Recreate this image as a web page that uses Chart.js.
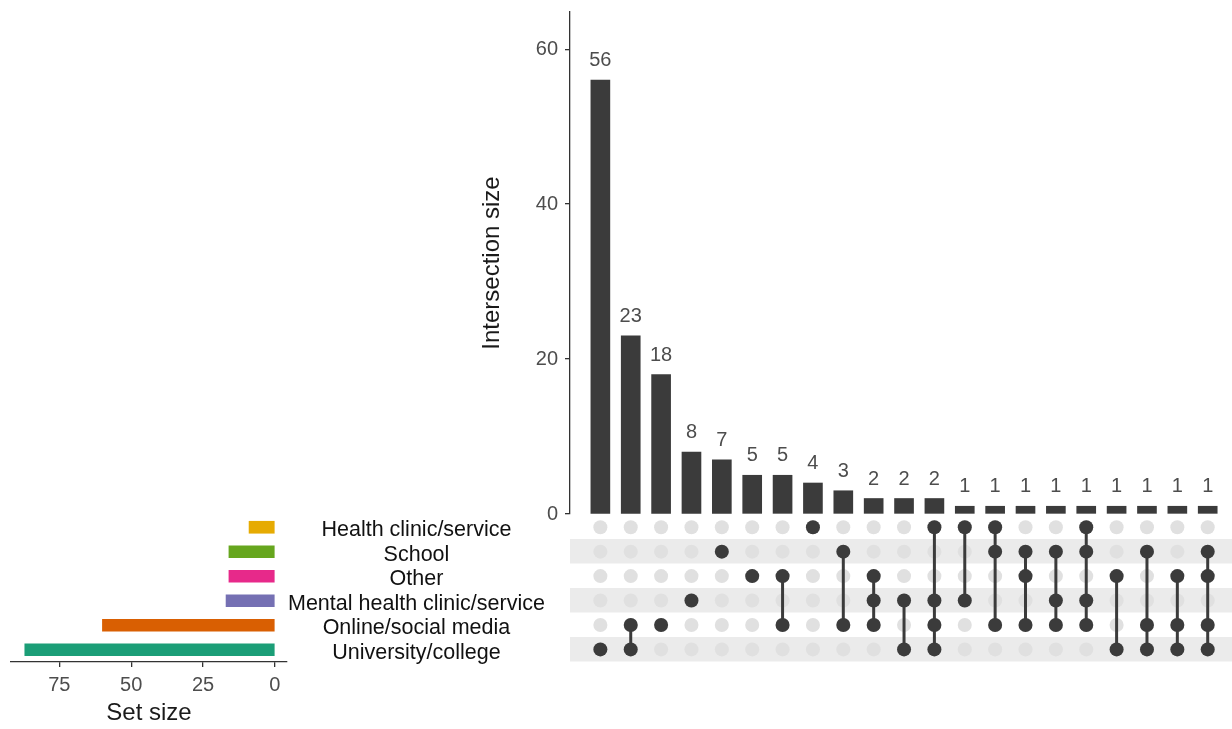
<!DOCTYPE html>
<html>
<head>
<meta charset="utf-8">
<script src="https://cdn.jsdelivr.net/npm/chart.js@4.4.1/dist/chart.umd.min.js"></script>
<style>
  html, body { margin: 0; padding: 0; background: #fff; }
  #wrap { position: relative; width: 1232px; height: 729px; overflow: hidden; background: #fff; }
  canvas { position: absolute; }
</style>
</head>
<body>
<div id="wrap">
  <canvas id="sizes" width="762" height="520" style="left:470px;top:0px"></canvas>
  <canvas id="matrix" width="672" height="170" style="left:560px;top:505px"></canvas>
  <canvas id="sets" width="570" height="224" style="left:0px;top:505px"></canvas>
</div>
<script>
// Sets, top row first
const setNames = [
  'Health clinic/service',
  'School',
  'Other',
  'Mental health clinic/service',
  'Online/social media',
  'University/college'
];
const setSizes = [9, 16, 16, 17, 60, 87];
const setSizeTicks = [0, 25, 50, 75];

// Intersections, largest first
const intersectionSizes = [56, 23, 18, 8, 7, 5, 5, 4, 3, 2, 2, 2, 1, 1, 1, 1, 1, 1, 1, 1, 1];
const intersectionTicks = [0, 20, 40, 60];
const intersectionSets = [
  ['University/college'],
  ['Online/social media', 'University/college'],
  ['Online/social media'],
  ['Mental health clinic/service'],
  ['School'],
  ['Other'],
  ['Other', 'Online/social media'],
  ['Health clinic/service'],
  ['School', 'Online/social media'],
  ['Other', 'Mental health clinic/service', 'Online/social media'],
  ['Mental health clinic/service', 'University/college'],
  ['Health clinic/service', 'Mental health clinic/service', 'Online/social media', 'University/college'],
  ['Health clinic/service', 'Mental health clinic/service'],
  ['Health clinic/service', 'School', 'Online/social media'],
  ['School', 'Other', 'Online/social media'],
  ['School', 'Mental health clinic/service', 'Online/social media'],
  ['Health clinic/service', 'School', 'Mental health clinic/service', 'Online/social media'],
  ['Other', 'University/college'],
  ['School', 'Online/social media', 'University/college'],
  ['Other', 'Online/social media', 'University/college'],
  ['School', 'Other', 'Online/social media', 'University/college']
];

// Styling
const setColors = ['#E6AB02', '#66A61E', '#E7298A', '#7570B3', '#D95F02', '#1B9E77'];
const DARK = '#3B3B3B';
const EMPTY_DOT = '#E0E0E0';
const STRIPE = '#EBEBEB';
const AXIS = '#333333';
const TICK_TEXT = '#4D4D4D';
const FONT = '"Liberation Sans", Arial, Helvetica, sans-serif';

Chart.defaults.font.family = FONT;
Chart.defaults.animation = false;
Chart.defaults.plugins.legend.display = false;
Chart.defaults.plugins.tooltip.enabled = false;

// Shared column axis for the bars and the dot matrix (fresh object per chart)
const columnAxis = () => ({ type: 'linear', min: 0, max: 21.8, offset: false, display: false });

// Keep axis label overhang from shrinking the plotting area
const noLabelOverhang = s => { s.paddingTop = 0; s.paddingBottom = 0; s.paddingLeft = 0; s.paddingRight = 0; };

// Value labels above the intersection bars
const barValueLabels = {
  id: 'barValueLabels',
  afterDatasetsDraw(chart) {
    const ctx = chart.ctx;
    const meta = chart.getDatasetMeta(0);
    ctx.save();
    ctx.font = '20px ' + FONT;
    ctx.fillStyle = TICK_TEXT;
    ctx.textAlign = 'center';
    ctx.textBaseline = 'alphabetic';
    meta.data.forEach((bar, i) => {
      ctx.fillText(String(intersectionSizes[i]), bar.x, bar.y - 14);
    });
    ctx.restore();
  }
};

// Intersection size bars
new Chart(document.getElementById('sizes'), {
  type: 'bar',
  data: {
    datasets: [{
      data: intersectionSizes.map((v, i) => ({ x: i + 1, y: v })),
      backgroundColor: DARK,
      borderWidth: 0,
      barThickness: 19
    }]
  },
  options: {
    responsive: false,
    layout: { autoPadding: false, padding: { left: 0, right: 0, top: 12, bottom: 6 } },
    scales: {
      x: columnAxis(),
      y: {
        type: 'linear',
        min: 0,
        max: 64.8,
        afterBuildTicks: s => { s.ticks = intersectionTicks.map(v => ({ value: v })); },
        afterFit: s => { s.width = 100; noLabelOverhang(s); },
        ticks: { font: { size: 20 }, color: TICK_TEXT, padding: 7 },
        grid: { drawOnChartArea: false, drawTicks: true, tickLength: 5, color: AXIS, lineWidth: 1.3 },
        border: { display: true, color: AXIS, width: 1.3 },
        title: {
          display: true,
          text: 'Intersection size',
          font: { size: 24 },
          color: '#1A1A1A',
          padding: { top: 8, bottom: 0 }
        }
      }
    }
  },
  plugins: [barValueLabels]
});

// Dot matrix: empty dots, connecting lines, member dots
const rowOf = name => setNames.indexOf(name) + 1;
const emptyDots = [];
intersectionSizes.forEach((_, c) => {
  setNames.forEach((_, r) => emptyDots.push({ x: c + 1, y: r + 1 }));
});
const memberDots = [];
const linkDatasets = [];
intersectionSets.forEach((members, c) => {
  const rows = members.map(rowOf);
  rows.forEach(r => memberDots.push({ x: c + 1, y: r }));
  if (rows.length > 1) {
    linkDatasets.push({
      type: 'line',
      data: [{ x: c + 1, y: Math.min(...rows) }, { x: c + 1, y: Math.max(...rows) }],
      borderColor: DARK,
      borderWidth: 3,
      pointRadius: 0,
      showLine: true,
      order: 1
    });
  }
});

new Chart(document.getElementById('matrix'), {
  type: 'scatter',
  data: {
    datasets: [
      {
        data: memberDots,
        pointRadius: 7,
        pointBackgroundColor: DARK,
        pointBorderWidth: 0,
        order: 0
      },
      ...linkDatasets,
      {
        data: emptyDots,
        pointRadius: 7,
        pointBackgroundColor: EMPTY_DOT,
        pointBorderWidth: 0,
        order: 2
      }
    ]
  },
  options: {
    responsive: false,
    layout: { autoPadding: false, padding: { left: 10, right: 0, top: 10, bottom: 13.4 } },
    scales: {
      x: columnAxis(),
      y: {
        type: 'linear',
        min: 0.5,
        max: 6.5,
        reverse: true,
        afterBuildTicks: s => { s.ticks = setNames.map((_, i) => ({ value: i + 1 })); },
        afterFit: s => { s.width = 0; noLabelOverhang(s); },
        ticks: { display: false },
        border: { display: false },
        grid: {
          drawTicks: false,
          color: ctx => (ctx.index % 2 === 1 ? STRIPE : 'rgba(0,0,0,0)'),
          lineWidth: ctx => Math.abs(ctx.scale.getPixelForValue(1) - ctx.scale.getPixelForValue(2))
        }
      }
    }
  }
});

// Set size bars with set names
new Chart(document.getElementById('sets'), {
  type: 'bar',
  data: {
    labels: setNames,
    datasets: [{
      data: setSizes,
      backgroundColor: setColors,
      borderWidth: 0,
      barThickness: 12
    }]
  },
  options: {
    responsive: false,
    indexAxis: 'y',
    layout: { autoPadding: false, padding: { left: 11, right: 0, top: 10, bottom: 0 } },
    scales: {
      x: {
        type: 'linear',
        reverse: true,
        min: -4.2,
        max: 91.8,
        position: 'bottom',
        afterBuildTicks: s => { s.ticks = setSizeTicks.map(v => ({ value: v })); },
        afterFit: s => { s.height = 67; noLabelOverhang(s); },
        ticks: { font: { size: 20 }, color: TICK_TEXT, padding: 6, maxRotation: 0 },
        grid: { drawOnChartArea: false, drawTicks: true, tickLength: 5, color: AXIS, lineWidth: 1.3 },
        border: { display: true, color: AXIS, width: 1.3 },
        title: {
          display: true,
          text: 'Set size',
          font: { size: 24 },
          color: '#1A1A1A',
          padding: { top: 0, bottom: 1 }
        }
      },
      y: {
        type: 'category',
        position: 'right',
        afterFit: s => { s.width = 283; noLabelOverhang(s); },
        grid: { display: false, drawTicks: false },
        border: { display: false },
        ticks: { font: { size: 21.5 }, color: '#111111', crossAlign: 'center', padding: 1, labelOffset: 3, autoSkip: false }
      }
    }
  }
});
</script>
</body>
</html>
